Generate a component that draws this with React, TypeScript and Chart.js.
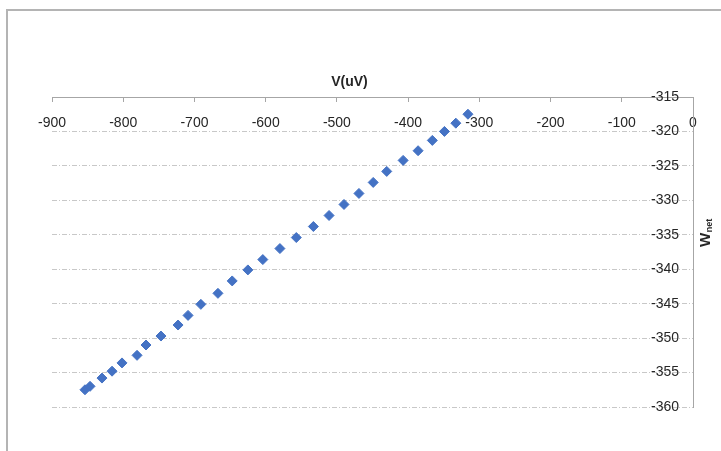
import React, { useEffect, useRef } from "react";
import { Chart, registerables } from "chart.js";

Chart.register(...registerables);

// V (uV) values
const vValues = [
  -853.7, -846.6, -829.8, -815.7, -801.7, -780.6, -768, -747, -723, -709,
  -691, -667, -647, -625, -604, -580, -557, -533, -511, -490,
  -469, -449, -430, -407, -386, -366, -349, -333, -316,
];
// W_net values
const wNetValues = [
  -357.5, -357.0, -355.8, -354.8, -353.6, -352.5, -351.0, -349.7, -348.1, -346.7,
  -345.1, -343.5, -341.7, -340.1, -338.6, -337.0, -335.4, -333.8, -332.2, -330.6,
  -329.0, -327.4, -325.8, -324.2, -322.8, -321.3, -320.0, -318.8, -317.5,
];

const xTitle = "V(uV)";
const yTitleMain = "W";
const yTitleSub = "net";
const xMin = -900;
const xMax = 0;
const xStep = 100;
const yMin = -360;
const yMax = -315;
const yStep = 5;

const FONT = "'Liberation Sans', Arial, sans-serif";

const titlesPlugin = {
  id: "customTitles",
  afterDraw(chart: any) {
    const ctx = chart.ctx;
    ctx.save();
    ctx.fillStyle = "#262626";
    ctx.font = `bold 14px ${FONT}`;
    ctx.textAlign = "center";
    ctx.textBaseline = "middle";
    ctx.fillText(xTitle, 349.5, 82);

    ctx.translate(706, 247);
    ctx.rotate(-Math.PI / 2);
    ctx.textAlign = "left";
    ctx.font = `bold 15px ${FONT}`;
    ctx.fillText(yTitleMain, 0, 0);
    const w = ctx.measureText(yTitleMain).width;
    ctx.font = `bold 9px ${FONT}`;
    ctx.fillText(yTitleSub, w + 0.5, 4);
    ctx.restore();
  },
};

export default function App() {
  const ref = useRef<HTMLCanvasElement | null>(null);

  useEffect(() => {
    if (!ref.current) return;
    const data = vValues.map((v, i) => ({ x: v, y: wNetValues[i] }));
    const chart = new Chart(ref.current, {
      type: "scatter",
      data: {
        datasets: [
          {
            data,
            pointStyle: "rectRot",
            pointRadius: 5,
            pointHoverRadius: 5,
            backgroundColor: "#4472C4",
            borderColor: "#4472C4",
            borderWidth: 1,
          },
        ],
      },
      options: {
        animation: false,
        responsive: false,
        devicePixelRatio: 1,
        events: [],
        layout: { padding: { left: 52, top: 0, right: 0, bottom: 44 } },
        plugins: {
          legend: { display: false },
          tooltip: { enabled: false },
        },
        scales: {
          x: {
            type: "linear",
            position: "top",
            min: xMin,
            max: xMax,
            afterFit: (s: any) => {
              s.height = 97;
            },
            ticks: {
              stepSize: xStep,
              autoSkip: false,
              maxRotation: 0,
              mirror: true,
              padding: 18,
              color: "#262626",
              font: { family: FONT, size: 14 },
            },
            grid: {
              drawOnChartArea: false,
              drawTicks: true,
              tickLength: -5,
              tickColor: "#a6a6a6",
              tickBorderDash: [],
              color: "#a6a6a6",
            },
            border: { display: true, color: "#a6a6a6", width: 1 },
          },
          y: {
            type: "linear",
            position: "right",
            min: yMin,
            max: yMax,
            afterFit: (s: any) => {
              s.width = 28;
            },
            ticks: {
              stepSize: yStep,
              mirror: true,
              padding: -14,
              color: "#262626",
              font: { family: FONT, size: 14 },
            },
            grid: {
              drawTicks: false,
              color: "#c8c8c8",
              lineWidth: 1,
            },
            border: { display: true, color: "#a6a6a6", width: 1, dash: [5, 2, 1, 2] },
          },
        },
      },
      plugins: [titlesPlugin],
    });
    return () => chart.destroy();
  }, []);

  return (
    <div style={{ position: "absolute", left: 0, top: 0, width: 721, height: 451, background: "#fff", overflow: "hidden" }}>
      <div
        style={{
          position: "absolute",
          left: 6,
          top: 9,
          width: 760,
          height: 500,
          borderLeft: "2px solid #b4b4b4",
          borderTop: "2px solid #b4b4b4",
        }}
      />
      <canvas ref={ref} width={721} height={451} style={{ position: "absolute", left: 0, top: 0, width: 721, height: 451 }} />
    </div>
  );
}
